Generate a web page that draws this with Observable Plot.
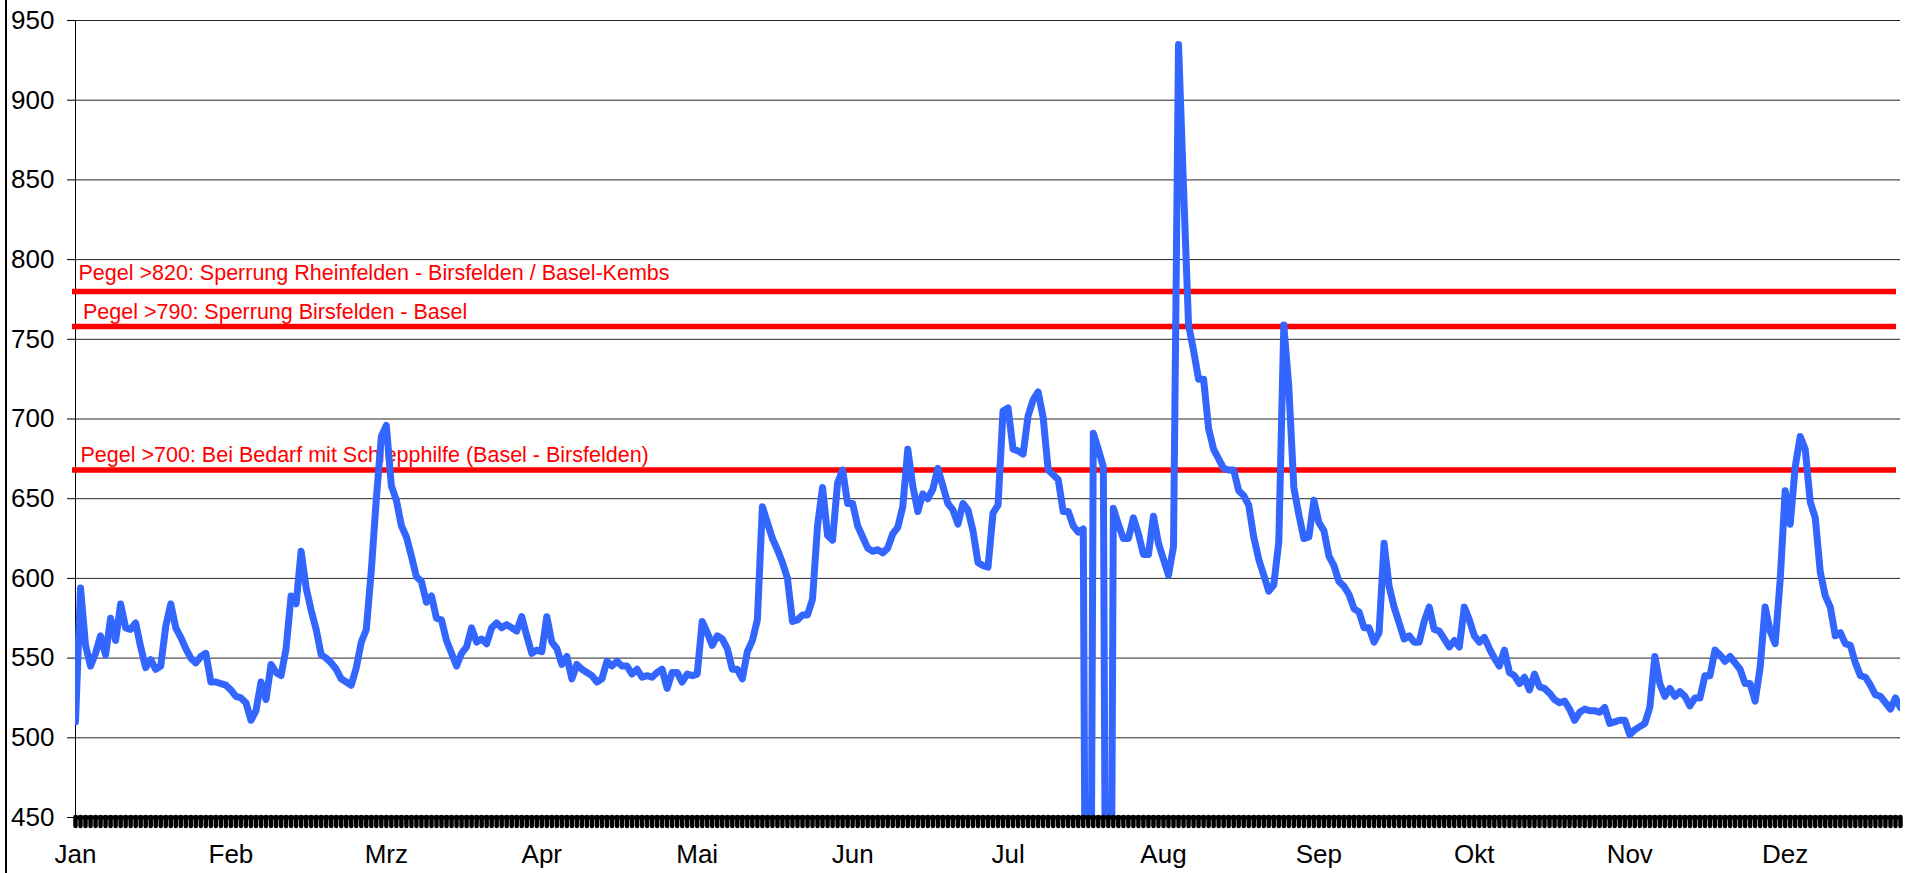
<!DOCTYPE html>
<html>
<head>
<meta charset="utf-8">
<script src="https://cdn.jsdelivr.net/npm/d3@7"></script>
<script src="https://cdn.jsdelivr.net/npm/@observablehq/plot@0.6"></script>
<style>
  html, body { margin: 0; padding: 0; background: #fff; }
  #wrap { position: relative; width: 1910px; height: 873px; overflow: hidden; }
  #frameline { position: absolute; left: 5px; top: 0; width: 1.5px; height: 873px; background: #000; }
</style>
</head>
<body>
<div id="wrap"><div id="frameline"></div></div>
<script>
// Month labels (category labels every 31 days)
const months = ["Jan", "Feb", "Mrz", "Apr", "Mai", "Jun", "Jul", "Aug", "Sep", "Okt", "Nov", "Dez"];

// Y axis tick labels
const yTicks = [450, 500, 550, 600, 650, 700, 750, 800, 850, 900, 950];

// Threshold lines and their labels
const thresholds = [780, 758, 668];
const thresholdLabels = [
  "Pegel >820: Sperrung Rheinfelden - Birsfelden / Basel-Kembs",
  "Pegel >790: Sperrung Birsfelden - Basel",
  "Pegel >700: Bei Bedarf mit Schlepphilfe (Basel - Birsfelden)"
];

// Daily water level (Pegel), one value per day; 0 = missing reading
const pegel = [
  510, 594, 558, 545, 553, 564, 552, 575, 561, 584, 569, 568, 572, 557, 544, 549, 543, 545, 570, 584,
  569, 563, 556, 550, 547, 551, 553, 535, 535, 534, 533, 530, 526, 525, 522, 511, 517, 535, 524, 546,
  541, 539, 556, 589, 584, 617, 594, 580, 568, 552, 550, 547, 543, 537, 535, 533, 544, 560, 568, 605,
  650, 689, 696, 658, 649, 633, 626, 614, 601, 598, 585, 589, 575, 574, 561, 553, 545, 553, 557, 569,
  560, 562, 559, 569, 572, 569, 571, 569, 567, 576, 564, 553, 555, 554, 576, 560, 556, 546, 551, 537,
  546, 543, 541, 539, 535, 537, 548, 545, 548, 545, 545, 540, 543, 538, 539, 538, 541, 543, 531, 541,
  541, 535, 540, 539, 540, 573, 566, 558, 564, 562, 556, 543, 543, 537, 554, 561, 574, 645, 635, 625,
  618, 610, 600, 573, 574, 577, 577, 587, 633, 657, 627, 624, 660, 668, 647, 647, 633, 626, 619, 617,
  618, 616, 619, 628, 632, 645, 681, 658, 642, 653, 650, 656, 669, 658, 647, 643, 634, 647, 643, 630,
  610, 608, 607, 641, 646, 705, 707, 681, 680, 678, 702, 712, 717, 701, 668, 665, 662, 642, 642, 633,
  629, 631, 0, 691, 681, 670, 0, 644, 634, 625, 625, 638, 628, 615, 615, 639, 622, 612, 602, 620,
  935, 845, 759, 743, 725, 725, 694, 681, 675, 669, 668, 668, 655, 652, 646, 626, 612, 602, 592, 596,
  623, 759, 720, 657, 640, 625, 626, 649, 635, 630, 614, 608, 598, 595, 590, 581, 579, 569, 569, 560,
  566, 622, 595, 582, 572, 562, 564, 560, 560, 573, 582, 568, 567, 562, 557, 561, 557, 582, 574, 564,
  560, 563, 556, 550, 545, 555, 541, 539, 534, 538, 530, 540, 532, 531, 528, 524, 522, 523, 518, 511,
  516, 518, 517, 517, 516, 519, 509, 510, 511, 511, 502, 505, 507, 509, 519, 551, 534, 526, 531, 526,
  529, 526, 520, 525, 525, 539, 539, 555, 552, 548, 551, 547, 543, 534, 534, 523, 544, 582, 567, 559,
  599, 655, 634, 670, 689, 681, 648, 638, 604, 589, 582, 564, 566, 559, 558, 547, 539, 538, 533, 527,
  526, 522, 518, 525, 519
];

const days = d3.range(pegel.length);
const monthTicks = months.map((m, i) => i * 31);
const monthLabel = new Map(monthTicks.map((t, i) => [t, months[i]]));
const red = "#FF0000";
const labelOffsets = [{dx: 3, dy: -11}, {dx: 7.5, dy: -7.7}, {dx: 5, dy: -8.3}];

const chart = Plot.plot({
  width: 1910,
  height: 873,
  marginLeft: 75,
  marginRight: 10,
  marginTop: 20,
  marginBottom: 56,
  style: {fontFamily: "'Liberation Sans', Arial, sans-serif", fontSize: "26px", background: "transparent", color: "#000"},
  x: {domain: [0, pegel.length - 1]},
  y: {domain: [450, 950]},
  marks: [
    Plot.gridY(yTicks.filter(t => t > 450), {stroke: "#000", strokeOpacity: 0.85, strokeWidth: 1}),
    Plot.axisY(yTicks, {tickSize: 8, tickPadding: 13, fontSize: 26, stroke: "#000", fill: "#000", label: null}),
    Plot.frame({anchor: "left", stroke: "#000", strokeWidth: 1}),
    Plot.ruleY(thresholds, {stroke: red, strokeWidth: 5.5, insetLeft: -3, insetRight: 4}),
    ...thresholds.map((t, i) =>
      Plot.text([t], {
        x: () => 0, y: d => d, text: () => thresholdLabels[i],
        textAnchor: "start", lineAnchor: "bottom", fill: red, fontSize: 21.5,
        dx: labelOffsets[i].dx, dy: labelOffsets[i].dy
      })
    ),
    Plot.lineY(pegel, {x: (d, i) => i, y: d => d, stroke: "#3366FF", strokeWidth: 7, strokeLinejoin: "round", strokeLinecap: "round", clip: true}),
    Plot.ruleY([450], {stroke: "#000", strokeWidth: 4}),
    Plot.axisX(days, {tickSize: 9, tickFormat: () => "", stroke: "#000", strokeWidth: 4.5, strokeLinecap: "round", label: null}),
    Plot.axisX(monthTicks, {tickSize: 0, tickPadding: 27, tickFormat: d => monthLabel.get(d), fontSize: 26, fill: "#000", label: null})
  ]
});
document.getElementById("wrap").appendChild(chart);
</script>
</body>
</html>
